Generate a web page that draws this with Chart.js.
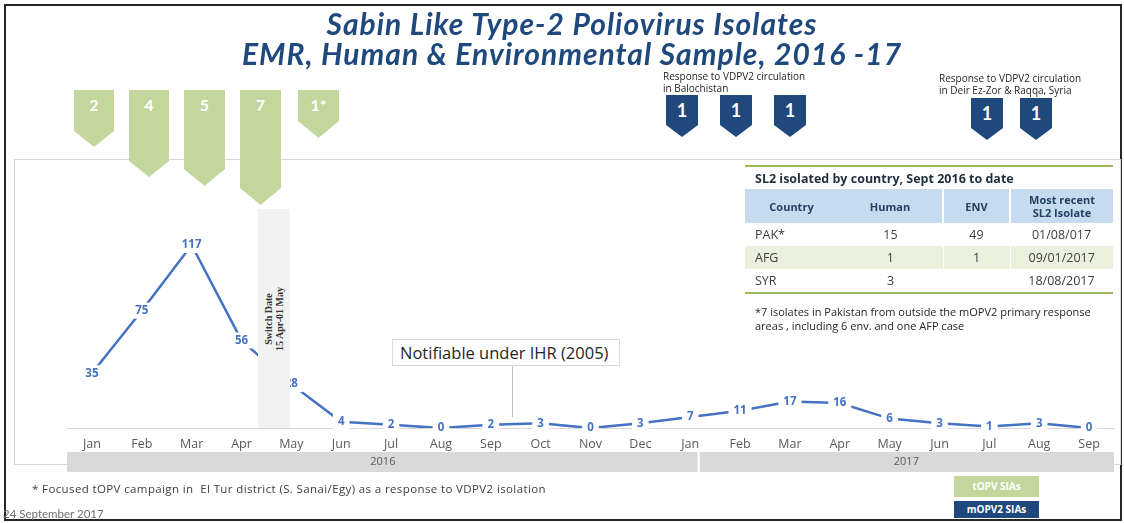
<!DOCTYPE html>
<html>
<head>
<meta charset="utf-8">
<script src="https://cdn.jsdelivr.net/npm/chart.js@4.4.0/dist/chart.umd.min.js"></script>
<style>
  body { margin: 0; background: #fff; }
  #slide { position: relative; width: 1124px; height: 523px; overflow: hidden; font-family: Lato, "Open Sans", sans-serif; }
  .abs { position: absolute; }
  #frame { left: 4px; top: 4px; width: 1118px; height: 517px; box-sizing: border-box; border: 2px solid #262626; }
  #panel { left: 14px; top: 159px; width: 1107px; height: 306px; box-sizing: border-box; border: 1px solid #d9d9d9; }
  .title { left: 0; width: 1144px; text-align: center; color: #1f497d; font: italic bold 30px Lato, sans-serif; letter-spacing: 1px; line-height: 36px; }
  .arrow { color: #fff; font-weight: bold; text-align: center; }
  .green { background: #c3d69b; font-size: 16px; }
  .blue { background: #1f497d; font-size: 18px; }
  .note { font: 10px "Open Sans", sans-serif; color: #262626; line-height: 12px; white-space: nowrap; }
  .fnote { font: 11px "Open Sans", sans-serif; color: #262626; line-height: 14px; white-space: nowrap; }
  #switch { left: 258px; top: 209px; width: 32px; height: 219px; background: #f2f2f2; }
  #switch div { position: absolute; left: 50%; top: 50%; transform: translate(-50%, -50%) rotate(-90deg);
    font: bold 10px "Liberation Serif", "DejaVu Serif", serif; color: #333; text-align: center; line-height: 11px; white-space: nowrap; }
  #ihr { left: 392px; top: 339px; width: 228px; height: 27px; box-sizing: border-box; border: 1px solid #d9d9d9; background: #fff;
    font: 16.5px "Open Sans", sans-serif; color: #262626; line-height: 25px; padding-left: 7px; white-space: nowrap; }
  #ihrline { left: 512px; top: 366px; width: 1px; height: 51px; background: #bfbfbf; }
  table { border-collapse: collapse; font-family: "Open Sans", sans-serif; color: #404040; }
  #tbl { left: 745px; top: 165px; width: 368px; }
  #tbl td, #tbl th { padding: 0; }
  #tbl .cap { border-top: 2px solid #9bbb59; height: 22px; text-align: left; padding-left: 10px; font-size: 12.5px; font-weight: bold; color: #1f2f3f; }
  #tbl .head th { background: #c6dbef; height: 34px; font-size: 11px; color: #243f60; line-height: 13px; }
  #tbl .head th + th + th { border-left: 2px solid #fff; }
  #tbl .row td { height: 23px; font-size: 12.5px; text-align: center; }
  #tbl .row td:first-child { text-align: left; padding-left: 10px; }
  #tbl .alt td { background: #ebf1de; }
  #tbl .alt td + td + td { border-left: 1px solid #fff; }
  #tbl .last td { border-bottom: 2px solid #9bbb59; }
  .leg { left: 954px; width: 85px; color: #fff; font: bold 10px "Open Sans", sans-serif; text-align: center; }
</style>
</head>
<body>
<div id="slide">
  <div class="abs" id="frame"></div>
  <div class="abs" id="panel"></div>
  <canvas id="chart" class="abs" style="left:0;top:0" width="1124" height="523"></canvas>

  <div class="abs title" style="top:5px">Sabin Like Type-2 Poliovirus Isolates</div>
  <div class="abs title" style="top:35px">EMR, Human &amp; Environmental Sample, 2016 -17</div>

  <div class="abs" id="switch"><div>Switch Date<br>15 Apr-01 May</div></div>
  <div class="abs" id="ihrline"></div>
  <div class="abs" id="ihr">Notifiable under IHR (2005)</div>

  <div class="abs note" style="left:663px;top:70px">Response to VDPV2 circulation<br>in Balochistan</div>
  <div class="abs note" style="left:939px;top:72px">Response to VDPV2 circulation<br>in Deir Ez-Zor &amp; Raqqa, Syria</div>

  <table class="abs" id="tbl">
    <tr><th class="cap" colspan="4">SL2 isolated by country, Sept 2016 to date</th></tr>
    <tr class="head"><th style="width:93px">Country</th><th style="width:104px">Human</th><th style="width:65px">ENV</th><th>Most recent<br>SL2 Isolate</th></tr>
  </table>
  <div class="abs fnote" style="left:755px;top:305px">*7 isolates in Pakistan from outside the mOPV2 primary response<br>areas , including 6 env. and one AFP case</div>

  <div class="abs" style="left:32px;top:481px;font:11.5px 'Open Sans',sans-serif;letter-spacing:0.38px;color:#404040;white-space:nowrap">* Focused tOPV campaign in&nbsp; El Tur district (S. Sanai/Egy) as a response to VDPV2 isolation</div>
  <div class="abs" style="left:3px;top:507px;font-size:11.5px;color:#6f6f6f">24 September 2017</div>
  <div class="abs leg" style="top:476px;height:21px;line-height:21px;background:#c3d69b">tOPV SIAs</div>
  <div class="abs leg" style="top:501px;height:17px;line-height:17px;background:#1f497d">mOPV2 SIAs</div>
</div>

<script>
// monthly SL2 isolates, Jan 2016 - Sep 2017
const months = ['Jan', 'Feb', 'Mar', 'Apr', 'May', 'Jun', 'Jul', 'Aug', 'Sep', 'Oct', 'Nov', 'Dec',
                'Jan', 'Feb', 'Mar', 'Apr', 'May', 'Jun', 'Jul', 'Aug', 'Sep'];
const isolates = [35, 75, 117, 56, 28, 4, 2, 0, 2, 3, 0, 3,
                  7, 11, 17, 16, 6, 3, 1, 3, 0];
const years = ['2016', '2017'];
const yearStart = [0, 12];

// SIA rounds shown as arrows
const topvRounds = ['2', '4', '5', '7', '1*'];
const mopv2Rounds = ['1', '1', '1', '1', '1'];

// table
const countries = ['PAK*', 'AFG', 'SYR'];
const humanCount = ['15', '1', '3'];
const envCount = ['49', '1', ''];
const lastIsolate = ['01/08/017', '09/01/2017', '18/08/2017'];

// arrow placement (left, top, width, height)
const topvBoxes = [[74, 90, 40, 57], [129, 90, 40, 87], [184, 90, 41, 96], [240, 90, 41, 115], [298, 90, 41, 48]];
const mopvBoxes = [[666, 95, 32, 42], [720, 95, 32, 42], [774, 95, 32, 42], [971, 98, 32, 42], [1020, 98, 32, 42]];

const slide = document.getElementById('slide');
function addArrow(label, box, cls, textTop) {
  const d = document.createElement('div');
  const tip = Math.round(box[2] / 2) - 4;
  d.className = 'abs arrow ' + cls;
  d.style.cssText = `left:${box[0]}px;top:${box[1]}px;width:${box[2]}px;height:${box[3]}px;padding-top:${textTop}px;box-sizing:border-box;` +
    `clip-path:polygon(0 0,100% 0,100% calc(100% - ${tip}px),50% 100%,0 calc(100% - ${tip}px))`;
  d.textContent = label;
  slide.appendChild(d);
}
topvRounds.forEach((t, i) => addArrow(t, topvBoxes[i], 'green', 5));
mopv2Rounds.forEach((t, i) => addArrow(t, mopvBoxes[i], 'blue', 4));

const tbl = document.getElementById('tbl');
countries.forEach((c, i) => {
  const tr = document.createElement('tr');
  tr.className = 'row' + (i === 1 ? ' alt' : '') + (i === countries.length - 1 ? ' last' : '');
  [c, humanCount[i], envCount[i], lastIsolate[i]].forEach(v => {
    const td = document.createElement('td');
    td.textContent = v;
    tr.appendChild(td);
  });
  tbl.appendChild(tr);
});

// value labels sitting on the points, white backed like the Excel labels
const pointLabels = {
  id: 'pointLabels',
  afterDatasetsDraw(chart) {
    const ctx = chart.ctx;
    ctx.save();
    ctx.font = 'bold 11.5px "Open Sans"';
    ctx.textAlign = 'center';
    ctx.textBaseline = 'middle';
    chart.getDatasetMeta(0).data.forEach((pt, i) => {
      const t = String(isolates[i]);
      const w = ctx.measureText(t).width + 10;
      ctx.fillStyle = '#fff';
      ctx.fillRect(pt.x - w / 2, pt.y - 8, w, 16);
      ctx.fillStyle = '#4472c4';
      ctx.fillText(t, pt.x, pt.y);
    });
    ctx.restore();
  }
};

// grey year band under the month labels
const yearBand = {
  id: 'yearBand',
  afterDraw(chart) {
    const x = chart.scales.x, ctx = chart.ctx;
    const step = x.getPixelForValue(1) - x.getPixelForValue(0);
    const top = x.bottom - 20;
    const edges = [x.left, x.getPixelForValue(yearStart[1]) + step * 0.17, x.right];
    ctx.save();
    ctx.fillStyle = '#d9d9d9';
    ctx.fillRect(edges[0], top, edges[2] - edges[0], 20);
    ctx.fillStyle = '#fff';
    ctx.fillRect(edges[1] - 1, top, 2, 20);
    ctx.fillStyle = '#595959';
    ctx.font = '11px "Open Sans"';
    ctx.textAlign = 'center';
    ctx.textBaseline = 'middle';
    years.forEach((y, i) => ctx.fillText(y, (edges[i] + edges[i + 1]) / 2, top + 10));
    ctx.restore();
  }
};

new Chart(document.getElementById('chart'), {
  type: 'line',
  data: {
    labels: months,
    datasets: [{
      data: isolates,
      borderColor: '#4472c4',
      borderWidth: 2.5,
      pointRadius: 0,
      tension: 0
    }]
  },
  options: {
    responsive: false,
    animation: false,
    devicePixelRatio: 1,
    layout: { padding: { left: 67, right: 10, top: 209, bottom: 51 } },
    plugins: { legend: { display: false }, tooltip: { enabled: false } },
    scales: {
      x: {
        offset: true,
        grid: { display: false, drawTicks: false },
        border: { display: true, color: '#d9d9d9', width: 1 },
        ticks: { color: '#595959', font: { family: 'Open Sans', size: 12.5 }, padding: 9, maxRotation: 0, autoSkip: false },
        afterFit(scale) { scale.height = 44; }
      },
      y: { display: false, min: 0, max: 140 }
    }
  },
  plugins: [pointLabels, yearBand]
});
</script>
</body>
</html>
